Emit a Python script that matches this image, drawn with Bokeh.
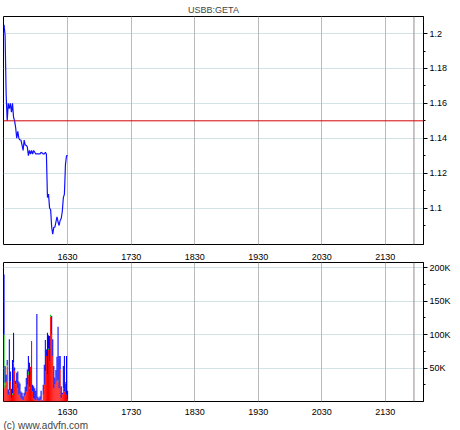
from bokeh.plotting import figure
from bokeh.layouts import column
from bokeh.models import Span, FixedTicker, Range1d, NumeralTickFormatter, Title, ColumnDataSource
from bokeh.embed import file_html
from bokeh.resources import INLINE

# ---------------- data ----------------
title_text = "USBB:GETA"
copyright_text = "(c) www.advfn.com"
start_minute = 15 * 60 + 30          # first bar/point at 15:30, one per minute

price = [1.205, 1.199, 1.165, 1.150, 1.160, 1.157, 1.160, 1.155, 1.160, 1.152,
         1.150, 1.146, 1.140, 1.144, 1.140, 1.139, 1.139, 1.136, 1.133, 1.139,
         1.136, 1.136, 1.135, 1.130, 1.133, 1.131, 1.133, 1.131, 1.133, 1.132,
         1.131, 1.131, 1.131, 1.131, 1.131, 1.132, 1.1316, 1.131, 1.131, 1.132,
         1.131, 1.106, 1.108, 1.100, 1.099, 1.089, 1.085, 1.089, 1.089, 1.092,
         1.095, 1.092, 1.090, 1.093, 1.094, 1.098, 1.106, 1.108, 1.125, 1.130,
         1.130]

vol_red = [20, 25, 30, 52, 10, 15, 30, 5, 10, 56,
           46, 25, 28, 20, 10, 12, 5, 3, 2, 8,
           10, 15, 25, 40, 20, 52, 88, 15, 5, 3,
           2, 5, 2, 1, 2, 3, 1, 10, 25, 45,
           68, 40, 77, 60, 127, 100, 68, 20, 26, 36,
           30, 30, 20, 48, 5, 11, 20, 15, 27, 10, 3]
vol_green = [80, 3, 0, 2, 0, 2, 0, 0, 2, 2,
             0, 1, 0, 0, 0, 0, 0, 0, 0, 0,
             0, 0, 0, 5, 2, 0, 0, 0, 0, 0,
             0, 0, 0, 0, 0, 0, 0, 0, 0, 0,
             0, 0, 2, 0, 3, 0, 0, 0, 0, 0,
             0, 2, 0, 0, 0, 0, 0, 0, 2, 0, 0]
vol_blue = [90, 25, 10, 8, 8, 76, 15, 14, 50, 45,
            5, 5, 15, 25, 20, 15, 10, 10, 6, 5,
            12, 20, 23, 23, 36, 0, 2, 10, 18, 17,
            14, 126, 5, 4, 6, 13, 1, 15, 30, 47,
            10, 63, 20, 38, 0, 28, 25, 33, 10, 11,
            37, 80, 48, 20, 18, 2, 33, 53, 0, 58, 13]   # thousands

x_tick_labels = ["1630", "1730", "1830", "1930", "2030", "2130"]
price_ticks = [1.1, 1.12, 1.14, 1.16, 1.18, 1.2]
price_minor_ticks = [1.09, 1.11, 1.13, 1.15, 1.17, 1.19]
ref_price = 1.15
vol_ticks = [50000, 100000, 150000, 200000]
vol_minor_ticks = [25000, 75000, 125000, 175000]
vol_tick_labels = ["50K", "100K", "150K", "200K"]
x_start, x_end = 929.5, 1326          # minutes of day
end_marker = 1317                     # minutes of day

# ---------------- build ----------------
FONT = "Liberation Sans"
minutes = [start_minute + i for i in range(len(price))]
x_ticks = [int(t[:2]) * 60 + int(t[2:]) for t in x_tick_labels]
x_over = dict(zip(x_ticks, x_tick_labels))

src = ColumnDataSource(dict(
    t=minutes, price=price,
    red=[v * 1000 for v in vol_red],
    green=[v * 1000 for v in vol_green],
    blue=[v * 1000 for v in vol_blue],
))


def style(p, label_standoff):
    p.outline_line_color = "black"
    p.outline_line_alpha = 1
    p.outline_line_width = 1
    p.background_fill_color = "white"
    p.border_fill_color = "white"
    p.xgrid.ticker = FixedTicker(ticks=x_ticks)
    p.xgrid.grid_line_color = "#bababa"
    p.ygrid.grid_line_color = "#a6c6ca"
    p.ygrid.grid_line_dash = "1 1"
    xa = p.xaxis[0]
    xa.ticker = FixedTicker(ticks=x_ticks)
    xa.major_label_overrides = x_over
    xa.major_tick_line_color = None
    xa.minor_tick_line_color = None
    xa.axis_line_color = None
    xa.major_label_text_font = FONT
    xa.major_label_text_font_size = "9px"
    xa.major_label_text_color = "black"
    xa.major_label_standoff = label_standoff
    ya = p.yaxis[0]
    ya.axis_line_color = "black"
    ya.major_tick_out = 4
    ya.major_tick_in = 0
    ya.minor_tick_out = 2
    ya.minor_tick_in = 0
    ya.major_tick_line_color = "black"
    ya.minor_tick_line_color = "black"
    ya.major_label_text_font = FONT
    ya.major_label_text_font_size = "9px"
    ya.major_label_text_color = "black"
    ya.major_label_standoff = 2
    p.add_layout(Span(location=end_marker, dimension="height", line_color="#968c8c", line_width=1))


p1 = figure(width=460, height=262, x_range=Range1d(x_start, x_end),
            y_range=Range1d(1.0791, 1.2098), y_axis_location="right",
            output_backend="svg", toolbar_location=None,
            min_border_left=3, min_border_right=37, min_border_top=15, min_border_bottom=16)
style(p1, 3)
p1.yaxis[0].ticker = FixedTicker(ticks=price_ticks, minor_ticks=price_minor_ticks)
p1.yaxis[0].formatter = NumeralTickFormatter(format="0.[00]")
p1.ygrid.ticker = FixedTicker(ticks=price_ticks)
p1.title.text = title_text
p1.title.align = "center"
p1.title.text_font = FONT
p1.title.text_font_size = "9px"
p1.title.text_font_style = "normal"
p1.title.standoff = 4
p1.add_layout(Span(location=ref_price, dimension="width", line_color="#d40000", line_width=1))
p1.line("t", "price", source=src, line_color="#1010ff", line_width=1.2)

p2 = figure(width=460, height=168, x_range=p1.x_range,
            y_range=Range1d(0, 208000), y_axis_location="right",
            output_backend="svg", toolbar_location=None,
            min_border_left=3, min_border_right=37, min_border_top=0, min_border_bottom=29)
style(p2, 1)
p2.yaxis[0].ticker = FixedTicker(ticks=vol_ticks, minor_ticks=vol_minor_ticks)
p2.yaxis[0].major_label_overrides = dict(zip(vol_ticks, vol_tick_labels))
p2.ygrid.ticker = FixedTicker(ticks=vol_ticks)
p2.vbar_stack(["red", "green", "blue"], x="t", width=1.0, source=src,
              color=["#ff0000", "#00c800", "#0000ff"], line_color=None)
p2.add_layout(Title(text=copyright_text, align="left", text_font=FONT,
                    text_font_size="10px", text_font_style="normal", standoff=0), "below")

layout = column(p1, p2, spacing=0,
                styles={"position": "absolute", "left": "0px", "top": "0px"})

open("out.html", "w").write(file_html(layout, INLINE))
